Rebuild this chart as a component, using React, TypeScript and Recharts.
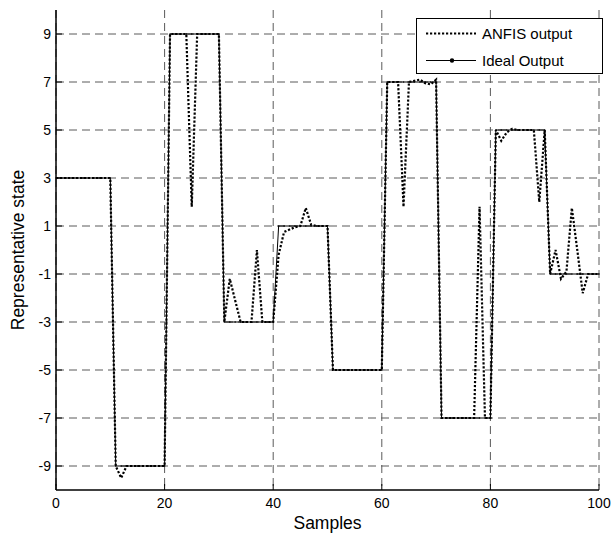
import {
  CartesianGrid,
  Label,
  Legend,
  Line,
  LineChart,
  XAxis,
  YAxis,
} from "recharts";

// Ideal output: constant blocks of 10 samples (sample 0..100)
const ideal = [
  3, 3, 3, 3, 3, 3, 3, 3, 3, 3, 3,
  -9, -9, -9, -9, -9, -9, -9, -9, -9, -9,
  9, 9, 9, 9, 9, 9, 9, 9, 9, 9,
  -3, -3, -3, -3, -3, -3, -3, -3, -3, -3,
  1, 1, 1, 1, 1, 1, 1, 1, 1, 1,
  -5, -5, -5, -5, -5, -5, -5, -5, -5, -5,
  7, 7, 7, 7, 7, 7, 7, 7, 7, 7,
  -7, -7, -7, -7, -7, -7, -7, -7, -7, -7,
  5, 5, 5, 5, 5, 5, 5, 5, 5, 5,
  -1, -1, -1, -1, -1, -1, -1, -1, -1, -1,
];

// ANFIS output
const anfis = [
  3, 3, 3, 3, 3, 3, 3, 3, 3, 3, 3,
  -9, -9.5, -9, -9, -9, -9, -9, -9, -9, -9,
  9, 9, 9, 9, 1.8, 9, 9, 9, 9, 9,
  -3, -1.2, -2.1, -3, -3, -3, 0, -3, -3, -3,
  -0.2, 0.75, 0.85, 0.95, 1, 1.75, 1.05, 1, 1, 1,
  -5, -5, -5, -5, -5, -5, -5, -5, -5, -5,
  7, 7, 7, 1.8, 7, 7.05, 7.1, 6.95, 6.9, 7.1,
  -7, -7, -7, -7, -7, -7, -7, 1.8, -7, -7,
  5, 4.55, 4.9, 5.05, 5, 5, 5, 5, 2, 5,
  -1, 0, -1.2, -0.9, 1.75, 0, -1.8, -1, -1, -1,
];

const xTicks = [0, 20, 40, 60, 80, 100];
const yTicks = [-9, -7, -5, -3, -1, 1, 3, 5, 7, 9];

const data = ideal.map((v, i) => ({ sample: i, ideal: v, anfis: anfis[i] }));

const FONT = "'Liberation Sans', Arial, Helvetica, sans-serif";
const GRID = "#5a5a5a";
const tick = { fill: "#000", fontSize: 14, fontFamily: FONT };
const blank = () => "";

function LegendBox() {
  return (
    <svg width={188} height={57} style={{ display: "block" }}>
      <rect x={0.5} y={0.5} width={186} height={55} fill="#fff" stroke="#000" />
      <line
        x1={10}
        x2={60}
        y1={15.5}
        y2={15.5}
        stroke="#000"
        strokeWidth={2.2}
        strokeDasharray="2.2 1.8"
      />
      <text x={66} y={20.5} fontSize={15} fontFamily={FONT} fill="#000">
        ANFIS output
      </text>
      <line x1={10} x2={60} y1={42.5} y2={42.5} stroke="#000" strokeWidth={1} />
      <circle cx={36} cy={42.5} r={2.2} fill="#000" />
      <text x={66} y={47.5} fontSize={15} fontFamily={FONT} fill="#000">
        Ideal Output
      </text>
    </svg>
  );
}

export default function App() {
  return (
    <div style={{ position: "absolute", left: 0, top: 0, background: "#fff" }}>
      <LineChart
        width={613}
        height={541}
        data={data}
        margin={{ top: 10, right: 14, left: 0, bottom: 0 }}
      >
        <CartesianGrid
          stroke={GRID}
          strokeDasharray="8 5"
          horizontalValues={yTicks}
          verticalValues={xTicks}
        />
        <XAxis
          dataKey="sample"
          type="number"
          domain={[0, 100]}
          ticks={xTicks}
          height={51}
          tick={tick}
          tickSize={-6}
          tickMargin={14}
          tickLine={{ stroke: "#000" }}
          axisLine={{ stroke: "#000", strokeWidth: 1.5 }}
        >
          <Label
            content={() => (
              <text
                x={327.5}
                y={529}
                textAnchor="middle"
                fontSize={17.5}
                fontFamily={FONT}
                fill="#000"
              >
                Samples
              </text>
            )}
          />
        </XAxis>
        <XAxis
          xAxisId="top"
          dataKey="sample"
          type="number"
          orientation="top"
          domain={[0, 100]}
          ticks={xTicks}
          height={0}
          tickFormatter={blank}
          tickSize={-6}
          tickLine={{ stroke: "#000" }}
          axisLine={{ stroke: "#000", strokeWidth: 1.5 }}
        />
        <YAxis
          type="number"
          domain={[-10, 10]}
          ticks={yTicks}
          width={56}
          tick={tick}
          tickSize={-6}
          tickMargin={11}
          tickLine={{ stroke: "#000" }}
          axisLine={{ stroke: "#000", strokeWidth: 1.5 }}
        >
          <Label
            content={() => (
              <text
                transform="translate(24,250) rotate(-90)"
                textAnchor="middle"
                fontSize={17.5}
                fontFamily={FONT}
                fill="#000"
              >
                Representative state
              </text>
            )}
          />
        </YAxis>
        <YAxis
          yAxisId="right"
          type="number"
          orientation="right"
          domain={[-10, 10]}
          ticks={yTicks}
          width={0}
          tickFormatter={blank}
          tickSize={-6}
          tickLine={{ stroke: "#000" }}
          axisLine={{ stroke: "#000", strokeWidth: 1.5 }}
        />
        <Line
          type="linear"
          dataKey="ideal"
          stroke="#000"
          strokeWidth={1}
          dot={{ r: 0.8, fill: "#000", stroke: "none" }}
          isAnimationActive={false}
        />
        <Line
          type="linear"
          dataKey="anfis"
          stroke="#000"
          strokeWidth={2.2}
          strokeDasharray="2.2 1.8"
          dot={false}
          isAnimationActive={false}
        />
        <Line
          xAxisId="top"
          yAxisId="right"
          dataKey="ideal"
          stroke="none"
          dot={false}
          legendType="none"
          isAnimationActive={false}
        />
        <Legend
          layout="vertical"
          align="center"
          verticalAlign="middle"
          content={() => <LegendBox />}
          wrapperStyle={{ left: 416, top: 18, width: 188, height: 57 }}
        />
      </LineChart>
    </div>
  );
}
